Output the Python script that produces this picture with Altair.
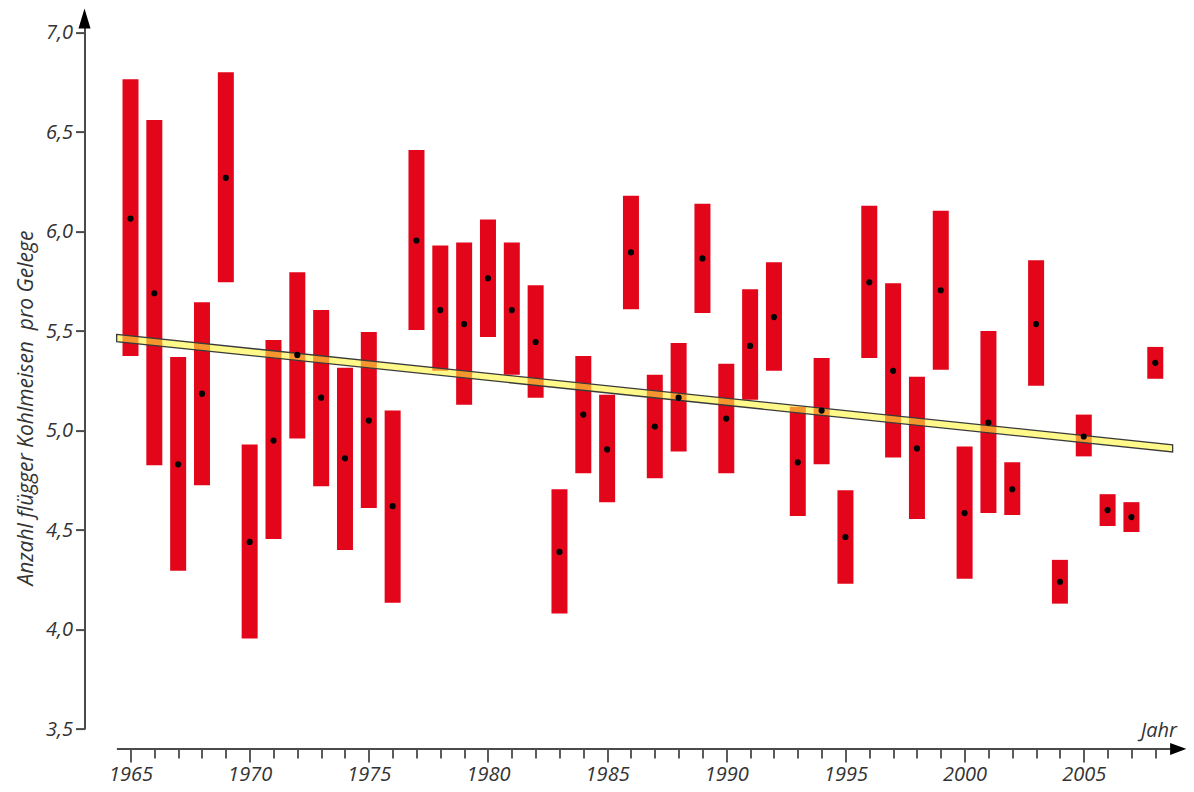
import altair as alt
import pandas as pd

# ---------------- data ----------------
years = list(range(1965, 2009))
high = [6.765, 6.56, 5.37, 5.645, 6.80, 4.93, 5.455, 5.795, 5.605, 5.315,
        5.495, 5.10, 6.41, 5.93, 5.945, 6.06, 5.945, 5.73, 4.705, 5.375,
        5.18, 6.18, 5.28, 5.44, 6.14, 5.335, 5.71, 5.845, 5.12, 5.365,
        4.70, 6.13, 5.74, 5.27, 6.105, 4.92, 5.50, 4.84, 5.855, 4.35,
        5.08, 4.68, 4.64, 5.42]
mean = [6.065, 5.69, 4.83, 5.185, 6.27, 4.44, 4.95, 5.38, 5.165, 4.86,
        5.05, 4.62, 5.955, 5.605, 5.535, 5.765, 5.605, 5.445, 4.39, 5.08,
        4.905, 5.895, 5.02, 5.165, 5.865, 5.06, 5.425, 5.57, 4.84, 5.10,
        4.465, 5.745, 5.30, 4.91, 5.705, 4.585, 5.04, 4.705, 5.535, 4.24,
        4.97, 4.60, 4.565, 5.34]
low = [5.375, 4.825, 4.295, 4.725, 5.745, 3.955, 4.455, 4.96, 4.72, 4.40,
       4.61, 4.135, 5.505, 5.30, 5.13, 5.47, 5.28, 5.165, 4.08, 4.785,
       4.64, 5.61, 4.76, 4.895, 5.59, 4.785, 5.155, 5.30, 4.57, 4.83,
       4.23, 5.365, 4.865, 4.555, 5.305, 4.255, 4.585, 4.575, 5.225, 4.13,
       4.87, 4.52, 4.49, 5.26]

trend_years = [1964.42, 2008.73]
trend_values = [5.465, 4.91]

y_ticks = [3.5, 4.0, 4.5, 5.0, 5.5, 6.0, 6.5, 7.0]
x_domain = [1963.07, 2009.29]
y_domain = [3.5, 7.07]

x_axis_years = [1964.43, 2008.8]   # extent of the horizontal axis line
x_axis_level = 3.4                  # level of the horizontal axis line
x_arrow_year = 2008.96
jahr_year = 2008.15
jahr_level = 3.49

y_title = "Anzahl flügger Kohlmeisen\u00a0 pro Gelege"

FONT = "Open Sans"
RED = "#e3061b"
AXIS = "#4a4a4a"
TXT = "#333333"

df = pd.DataFrame({"year": years, "low": low, "mean": mean, "high": high})
trend = pd.DataFrame({"year": trend_years, "value": trend_values})
xline = pd.DataFrame({"year": [x_axis_years[0]], "year2": [x_axis_years[1]], "low": [x_axis_level]})
xarrow = pd.DataFrame({"year": [x_arrow_year], "low": [x_axis_level]})
yarrow = pd.DataFrame({"year": [x_domain[0]], "low": [y_domain[1]]})
jahr = pd.DataFrame({"year": [jahr_year], "low": [jahr_level], "t": ["Jahr"]})

xs = alt.Scale(domain=x_domain, nice=False, zero=False)
ys = alt.Scale(domain=y_domain, nice=False, zero=False)

x_axis = alt.Axis(
    values=years, domain=False, offset=20, grid=False,
    tickSize={"condition": {"test": "datum.value % 5 === 0", "value": 13}, "value": 9},
    tickWidth=1.8, tickColor=AXIS,
    labelExpr="datum.value % 5 === 0 ? '' + datum.value : ''",
    labelOverlap=False, labelFlush=False,
    labelFont=FONT, labelFontStyle="italic", labelFontSize=20, labelColor=TXT,
    labelPadding=2,
)
y_axis = alt.Axis(
    values=y_ticks, grid=False,
    labelExpr="replace(format(datum.value, '.1f'), '.', ',')",
    domainColor=AXIS, domainWidth=2, tickSize=9, tickWidth=2, tickColor=AXIS,
    labelPadding=3, labelFont=FONT, labelFontStyle="italic", labelFontSize=20,
    labelColor=TXT,
    titleFont=FONT, titleFontStyle="italic", titleFontWeight="normal",
    titleFontSize=21, titleColor=TXT, titleX=-58, titleY=389,
    titleAlign="center", titleBaseline="middle",
)


def X(field):
    return alt.X(field, scale=xs, axis=x_axis, title=None)


def Y(field):
    return alt.Y(field, scale=ys, axis=y_axis, title=y_title)


bars = alt.Chart(df).mark_rule(strokeWidth=16, color=RED, strokeCap="butt").encode(
    x=X("year:Q"),
    y=Y("low:Q"),
    y2="high:Q",
)

band = alt.Chart(trend).transform_calculate(
    low="datum.value + 0.018", lo2="datum.value - 0.018"
).mark_area(fill="#fff53c", fillOpacity=0.6, stroke="#3a3a3a", strokeWidth=1.3).encode(
    x=X("year:Q"),
    y=Y("low:Q"),
    y2="lo2:Q",
)

dots = alt.Chart(df).mark_circle(size=38, color="black", opacity=1).encode(
    x=X("year:Q"),
    y=Y("mean:Q"),
)

xaxis_line = alt.Chart(xline).mark_rule(color=AXIS, strokeWidth=2).encode(
    x=X("year:Q"),
    x2="year2:Q",
    y=Y("low:Q"),
)

x_arrow = alt.Chart(xarrow).mark_point(
    shape="M1,0L-1,-0.75L-1,0.75Z", size=256, filled=True, color="black", opacity=1
).encode(
    x=X("year:Q"),
    y=Y("low:Q"),
)

y_arrow = alt.Chart(yarrow).mark_point(
    shape="M0,-1L0.6,1L-0.6,1Z", size=400, filled=True, color="black", opacity=1
).encode(
    x=X("year:Q"),
    y=Y("low:Q"),
)

jahr_text = alt.Chart(jahr).mark_text(
    font=FONT, fontStyle="italic", fontSize=20, color=TXT, align="center", baseline="middle"
).encode(
    x=X("year:Q"),
    y=Y("low:Q"),
    text="t:N",
)

chart = alt.layer(bars, band, dots, xaxis_line, x_arrow, y_arrow, jahr_text).properties(
    width=1101.5,
    height=710.4,
    autosize=alt.AutoSizeParams(type="none"),
    padding={"left": 76.5, "top": 10.6, "right": 0, "bottom": 60},
    background="white",
).configure_view(stroke=None)

chart.save("out.html", embed_options={"renderer": "svg", "actions": False})
